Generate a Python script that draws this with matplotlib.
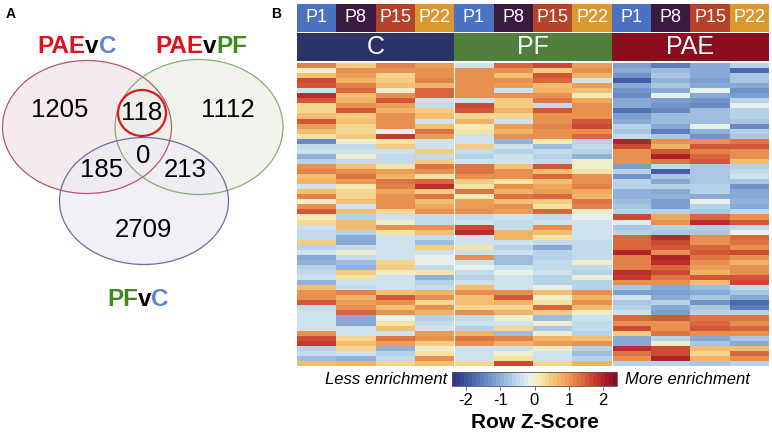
import numpy as np
import matplotlib
matplotlib.use('Agg')
import matplotlib.pyplot as plt
from matplotlib.patches import Ellipse, Rectangle
from matplotlib.colors import ListedColormap, LinearSegmentedColormap

plt.rcParams['font.family'] = ['Liberation Sans', 'DejaVu Sans']

# ---- panel A data (Venn counts) ----
venn_counts = {'PAEvC': 1205, 'PAEvPF': 1112, 'PFvC': 2709,
               'C_PF_PAE_C': 118, 'PAEvC_PFvC': 185, 'PAEvPF_PFvC': 213, 'all': 0}

# ---- panel B data (row z-scores, 60 row blocks x 4 timepoints per group) ----
timepoints = ['P1', 'P8', 'P15', 'P22']
groups = ['C', 'PF', 'PAE']

c_z = [
    [1.2, 0.5, 1.2, 0.9], [0.0, 1.0, 1.1, 1.0], [0.6, 0.9, 0.3, 1.1], [1.6, 0.7, 0.5, 1.2],
    [1.5, 1.2, 0.6, 0.7], [-0.4, 1.4, 0.0, 1.4], [1.9, 0.6, 1.0, 1.4], [1.5, 0.7, 1.5, -0.4],
    [0.3, 1.1, 0.9, -0.5], [0.3, 1.5, 0.7, 0.5], [0.6, 0.5, 1.1, 0.6], [1.5, 0.6, 1.0, -0.4],
    [0.9, 0.3, 1.1, 0.6], [0.6, 0.3, -0.1, 1.3], [0.2, 0.5, 1.7, 0.9], [-1.4, 0.0, 0.2, -0.4],
    [-0.5, -0.5, 0.5, -0.4], [-0.3, -0.3, -0.4, 0.5], [-0.9, 0.0, -0.5, -0.5], [-0.6, -0.5, -0.5, 0.5],
    [1.1, 0.6, 0.2, 1.3], [1.2, 1.0, 0.9, 1.1], [0.6, 1.3, 0.7, 0.2], [0.7, 0.9, 1.3, 1.4],
    [-0.3, 0.1, 1.2, 1.9], [0.6, 0.3, 0.8, 0.5], [1.2, 0.3, 1.0, 1.3], [0.0, 0.6, 1.1, 0.6],
    [1.0, -0.4, 1.1, 0.8], [1.5, 0.6, 0.3, 1.0], [0.1, -0.6, -0.4, -0.5], [0.3, 0.6, 0.0, -0.5],
    [-0.4, 0.6, 1.0, 1.0], [-0.5, -0.6, 0.2, 0.6], [-0.5, -1.0, -0.3, -0.5], [0.5, -1.0, -0.3, -0.8],
    [-0.6, -0.5, -0.3, 0.5], [-0.4, 0.0, -0.3, -0.3], [-1.0, -0.5, -0.3, -0.1], [-0.9, -0.8, 0.3, -0.1],
    [-0.6, -0.9, 0.5, -0.5], [-0.5, 0.5, 0.0, 0.2], [-0.3, 0.2, -0.3, -0.9], [-0.9, -0.4, -0.3, -0.6],
    [0.6, -0.5, -0.3, -0.5], [1.0, 1.2, 0.6, 0.7], [1.1, 0.7, 1.5, 1.0], [1.5, 0.9, 1.1, 0.3],
    [-0.5, 1.0, 0.6, 1.0], [-0.4, 1.4, 1.0, 0.7], [-0.4, -1.0, -0.1, -0.6], [-0.3, -1.0, 0.2, -0.5],
    [-0.3, -0.3, 0.6, -0.4], [1.0, -0.3, -0.3, 0.9], [1.6, 0.3, 1.3, 1.0], [1.8, 0.6, 0.9, 0.5],
    [-0.6, 0.3, -0.9, 0.0], [-0.5, -0.3, -0.6, 0.2], [-0.8, -0.9, -0.5, 1.0], [0.6, 0.7, 0.3, 0.6],
]
pf_z = [
    [-0.3, 1.4, 1.6, 0.9], [1.1, 1.0, 0.5, 1.0], [1.0, 0.6, 1.5, 0.7], [1.1, 1.0, 1.4, -0.4],
    [1.0, 0.9, 0.6, 0.9], [1.1, -0.4, 0.7, 0.6], [1.0, 1.0, 1.0, 0.1], [-0.3, 0.5, 1.3, 0.8],
    [1.6, 0.5, -0.5, 1.0], [1.5, 0.7, 1.5, 1.0], [0.3, 0.3, 1.1, 1.0], [0.7, -0.3, 1.1, 1.5],
    [0.1, 0.9, 1.2, 1.6], [0.2, 0.7, 1.0, 1.1], [-0.4, 1.0, 1.0, 1.4], [-0.4, -0.9, 0.1, -0.6],
    [0.5, -0.3, -0.8, -0.5], [-0.5, -0.6, -0.5, -0.6], [-0.6, -0.4, -0.6, -0.9], [-0.4, -0.3, -0.5, 0.0],
    [1.3, 0.6, 1.5, 0.0], [1.3, 1.0, 0.6, 0.2], [1.0, 1.1, 1.4, 1.1], [0.5, 0.2, 0.6, 1.1],
    [0.2, 1.0, 0.8, 1.2], [1.3, 0.7, 0.9, 0.8], [0.1, 1.3, 1.4, 0.7], [0.9, 0.6, 0.5, 1.3],
    [0.9, 1.0, 0.2, 1.2], [1.0, 0.9, 1.4, 0.0], [-0.5, -0.4, -0.5, -0.1], [-0.4, -0.5, -0.4, -0.3],
    [1.6, -0.5, 1.0, -0.3], [1.9, 0.7, 0.6, -0.4], [-0.3, 0.7, 0.2, -0.4], [-0.3, -0.4, -0.5, -0.5],
    [0.2, -0.6, -1.0, -0.5], [-0.3, -0.4, -0.6, -0.5], [1.0, -0.8, -0.6, -0.5], [-0.4, -0.8, -0.5, 0.0],
    [-0.1, -0.4, -0.5, -0.5], [-0.5, -0.1, -0.4, -0.6], [-0.6, -0.4, -0.6, 0.0], [-0.4, -0.4, -0.6, -0.6],
    [0.6, -0.4, -0.1, -0.6], [1.0, 1.0, 0.6, 1.1], [0.6, 1.5, 0.0, 0.7], [0.6, 0.7, 0.2, 1.0],
    [0.3, 0.3, 1.4, 0.6], [1.0, 0.7, 0.5, 0.0], [-0.5, 0.0, -0.8, -0.4], [-0.4, -0.3, 0.0, -0.5],
    [-0.6, 0.3, -0.7, -0.5], [0.7, -0.8, 0.0, -0.6], [1.3, 1.2, 0.7, 0.6], [1.0, 0.7, 0.9, 1.0],
    [-0.3, -0.4, 0.0, -0.6], [-0.3, 0.0, -0.3, -0.8], [-0.3, 0.2, -0.3, -0.6], [0.3, 1.6, 0.3, 0.7],
]
pae_z = [
    [-1.2, -1.5, -1.1, -0.6], [-1.0, -0.8, -1.0, -1.7], [-1.3, -0.7, -1.0, -0.7], [-1.9, -0.9, -1.2, -0.7],
    [-1.1, -0.7, -1.0, -1.0], [-1.3, -1.1, -0.1, -1.3], [-1.4, -0.1, -1.0, -1.2], [-1.0, -1.2, -1.3, -0.6],
    [-1.0, -1.3, -1.4, -0.1], [-1.6, -1.4, -0.8, -0.6], [-1.2, -0.8, -0.8, -0.6], [-1.0, -0.8, -0.8, -0.7],
    [-0.6, -1.0, -0.1, -1.4], [-0.7, -1.5, -0.9, -0.6], [-0.5, -0.7, -1.3, -0.7], [2.0, 1.1, 1.0, 1.3],
    [1.6, 0.7, 1.5, 1.5], [1.0, 1.5, 1.2, 1.0], [1.1, 2.0, 1.4, 1.0], [1.0, 1.3, 1.5, 0.6],
    [-1.2, -0.5, -0.7, -0.6], [-0.6, -1.9, -0.7, -0.5], [-1.3, -0.7, -0.7, -0.3], [-0.6, -1.1, -0.7, -0.7],
    [-0.6, -0.6, -0.6, -1.3], [-0.9, -1.0, -0.6, -1.0], [-0.9, -0.9, -1.1, -1.0], [-0.8, -1.2, -0.1, -0.9],
    [-0.7, -1.2, -0.6, -1.0], [-0.6, -0.6, -0.7, -0.5], [1.6, 0.8, 1.4, 1.0], [-0.2, 1.0, 1.9, 1.5],
    [-0.7, -0.6, -0.6, -0.5], [-0.6, -0.7, -0.7, -0.1], [1.4, 1.9, 1.1, 1.4], [1.4, 1.6, 1.0, 1.3],
    [1.4, 1.5, 1.4, 1.0], [2.0, 1.1, 1.5, 1.6], [1.2, 2.0, 1.3, 1.0], [1.2, 1.9, 1.0, 0.7],
    [1.2, 1.4, 0.9, 1.0], [1.9, 1.6, 0.7, 1.0], [1.7, 1.3, 1.5, 1.5], [1.1, 1.0, 0.6, 1.6],
    [-0.7, -1.1, -0.8, -0.5], [-1.2, -1.2, -1.0, -0.7], [-0.4, -1.0, -0.7, -1.0], [-0.7, -0.6, -1.3, -1.7],
    [-0.6, -1.0, -0.7, -1.5], [-0.4, -1.2, -0.6, -0.6], [1.4, 1.5, 1.3, 1.3], [1.0, 1.0, 1.4, 1.1],
    [1.6, 1.1, 1.5, 1.4], [0.5, 1.3, 1.1, 1.0], [-1.0, -0.6, -1.0, -0.7], [-1.0, 0.0, -0.7, -1.0],
    [1.9, 1.6, 0.6, 0.6], [1.3, 1.6, 0.3, 1.4], [1.1, 2.0, 0.7, 1.0], [-0.6, -0.6, -0.7, -0.6],
]
cbar_ticks = [-2, -1, 0, 1, 2]

# colours
tp_colors = ['#4a72c0', '#3b1a40', '#b5432a', '#d9992f']
group_colors = ['#2b3366', '#4f7f3b', '#8b0e1f']
red_txt, blue_txt, green_txt = '#e0101c', '#5b86d1', '#3f8a1f'

vmin, vmax = -2.4, 2.4
key_vals = [-2.4, -1.8, -1.2, -0.6, -0.15, 0.15, 0.6, 1.0, 1.5, 1.9, 2.4]
key_cols = ['#2c3788', '#4a68ae', '#7c9fcf', '#b5d2e8', '#e6f1f2', '#f7eaae',
            '#f4c070', '#eb9a55', '#d8603a', '#bf2f2c', '#8a0b25']
smooth = LinearSegmentedColormap.from_list(
    'zkey', [((v - vmin) / (vmax - vmin), c) for v, c in zip(key_vals, key_cols)])
cmap = ListedColormap(smooth(np.linspace(0, 1, 41)))

W, H = 772, 434
fig = plt.figure(figsize=(W / 100, H / 100), dpi=100)

# ================= Panel A =================
axA = fig.add_axes([0, 0, 290 / W, 1])
axA.set_xlim(0, 290)
axA.set_ylim(H, 0)
axA.axis('off')

ellipses = [  # (cx, cy, w, h, face, edge)
    (87, 127, 169, 133, '#f2e4e7', '#b5586a'),
    (199, 127, 168, 135, '#ecf1e8', '#88ab78'),
    (144, 201, 169, 127, '#ecebf4', '#6d6d9d'),
]
for cx, cy, w, h, fc, ec in ellipses:
    axA.add_patch(Ellipse((cx, cy), w, h, facecolor=fc, edgecolor='none', alpha=0.75))
for cx, cy, w, h, fc, ec in ellipses:
    axA.add_patch(Ellipse((cx, cy), w, h, facecolor='none', edgecolor=ec, lw=0.9))
axA.add_patch(Ellipse((142, 113), 48, 46, facecolor='none', edgecolor='#e01a1a', lw=1.6))

num_pos = {'PAEvC': (60, 110), 'PAEvPF': (228, 110), 'PFvC': (143, 230),
           'C_PF_PAE_C': (142, 113), 'PAEvC_PFvC': (102, 170), 'PAEvPF_PFvC': (185, 170),
           'all': (143, 156)}
for key, val in venn_counts.items():
    x, y = num_pos[key]
    axA.text(x, y, str(val), fontsize=18.5, ha='center', va='center', color='black')


def colored_label(ax, x, y, parts, size):
    t = ax.text(x, y, parts[0][0], color=parts[0][1], fontsize=size,
                fontweight='bold', ha='left', va='baseline')
    for s, c in parts[1:]:
        t = ax.annotate(s, xy=(1, 0), xycoords=t, color=c, fontsize=size,
                        fontweight='bold', ha='left', va='bottom')


colored_label(axA, 37, 53, [('PAE', red_txt), ('v', 'black'), ('C', blue_txt)], 17.5)
colored_label(axA, 155, 53, [('PAE', red_txt), ('v', 'black'), ('PF', green_txt)], 17.5)
colored_label(axA, 107, 306, [('PF', green_txt), ('v', 'black'), ('C', blue_txt)], 17.5)

fig.text(11 / W, 1 - 14 / H, 'A', fontsize=10, fontweight='bold', ha='center', va='center')
fig.text(276 / W, 1 - 14 / H, 'B', fontsize=10, fontweight='bold', ha='center', va='center')

# ================= Panel B =================
hm_left, hm_right, hm_top, hm_bot = 297, 769, 63, 366

# header boxes
axH = fig.add_axes([hm_left / W, 1 - 61 / H, (hm_right - hm_left) / W, 57 / H])
axH.set_xlim(0, 12)
axH.set_ylim(57, 0)
axH.axis('off')
for g in range(3):
    for k, tp in enumerate(timepoints):
        i = g * 4 + k
        axH.add_patch(Rectangle((i, 0), 1, 27.5, facecolor=tp_colors[k], edgecolor='none'))
        axH.text(i + 0.5, 14, tp, color='white', fontsize=13, ha='center', va='center')
    axH.add_patch(Rectangle((g * 4, 29), 4, 28, facecolor=group_colors[g], edgecolor='none'))
    axH.text(g * 4 + 2, 43.5, groups[g], color='white', fontsize=18, ha='center', va='center')

# heatmap
z = np.hstack([np.array(c_z), np.array(pf_z), np.array(pae_z)])
axM = fig.add_axes([hm_left / W, 1 - hm_bot / H, (hm_right - hm_left) / W, (hm_bot - hm_top) / H])
im = axM.imshow(z, cmap=cmap, vmin=vmin, vmax=vmax, aspect='auto', interpolation='nearest')
for xb in [3.5, 7.5]:
    axM.axvline(xb, color='white', lw=0.7)
axM.axis('off')

# colour key
axC = fig.add_axes([452 / W, 1 - 386 / H, 165 / W, 14 / H])
cb = fig.colorbar(im, cax=axC, orientation='horizontal', ticks=cbar_ticks)
cb.outline.set_edgecolor('#555555')
cb.outline.set_linewidth(0.6)
cb.ax.tick_params(labelsize=12, length=3, width=0.6, pad=2, color='#555555')
cb.ax.set_xticklabels([str(t) for t in cbar_ticks])

fig.text(447 / W, 1 - 380 / H, 'Less enrichment', fontsize=12, style='italic',
         ha='right', va='center')
fig.text(625 / W, 1 - 380 / H, 'More enrichment', fontsize=12, style='italic',
         ha='left', va='center')
fig.text(535 / W, 1 - 422 / H, 'Row Z-Score', fontsize=15, fontweight='bold',
         ha='center', va='center')

fig.savefig('out.png', dpi=100)
